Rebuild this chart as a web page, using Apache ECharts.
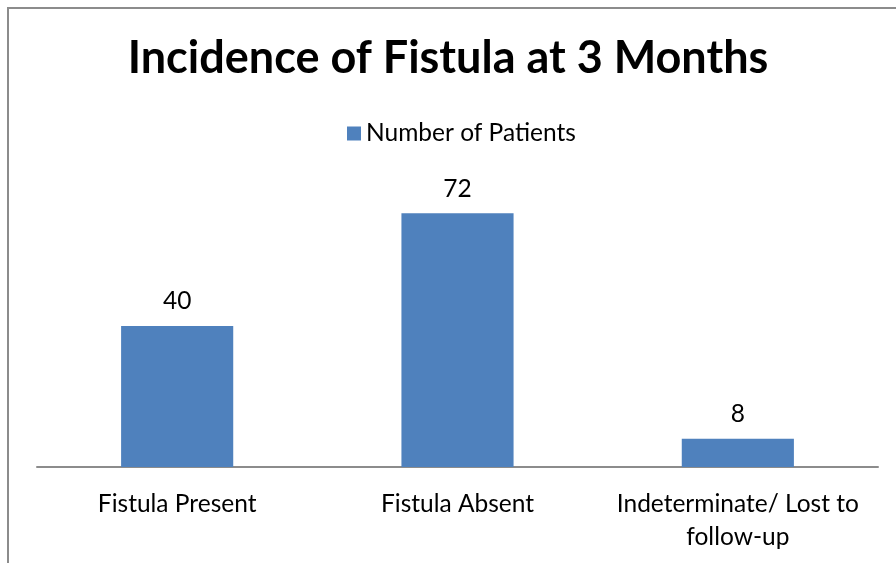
<!DOCTYPE html>
<html>
<head>
<meta charset="utf-8">
<script src="https://cdn.jsdelivr.net/npm/echarts@6/dist/echarts.min.js"></script>
<style>
  html, body { margin: 0; padding: 0; background: #fff; }
  #chart { width: 896px; height: 563px; }
</style>
</head>
<body>
<div id="chart"></div>
<script>
const categories = ['Fistula Present', 'Fistula Absent', 'Indeterminate/ Lost to\nfollow-up'];
const patients = [40, 72, 8];
const seriesName = 'Number of Patients';

const chart = echarts.init(document.getElementById('chart'));
const font = 'Lato, "Open Sans", sans-serif';

chart.setOption({
  backgroundColor: '#ffffff',
  animation: false,
  graphic: [{
    type: 'polyline',
    shape: { points: [[8, 563], [8, 8], [896, 8]] },
    style: { stroke: '#8c8c8c', lineWidth: 2, fill: null }
  }],
  title: {
    text: 'Incidence of Fistula at 3 Months',
    left: 'center',
    top: 31,
    textStyle: { fontFamily: font, fontWeight: 'bold', fontSize: 45, color: '#000' }
  },
  legend: {
    data: [seriesName],
    top: 116,
    left: 342,
    icon: 'rect',
    itemWidth: 14,
    itemHeight: 14,
    itemGap: 7,
    textStyle: { fontFamily: font, fontSize: 24.5, color: '#000' }
  },
  grid: { left: 37, right: 18, top: 185, bottom: 96 },
  xAxis: {
    type: 'category',
    data: categories,
    axisLine: { lineStyle: { color: '#8c8c8c', width: 2 } },
    axisTick: { show: false },
    axisLabel: {
      fontFamily: font, fontSize: 24.5, color: '#000', margin: 21,
      lineHeight: 33, interval: 0
    }
  },
  yAxis: {
    type: 'value',
    min: 0,
    max: 80,
    show: false,
    splitLine: { show: false }
  },
  series: [{
    name: seriesName,
    type: 'bar',
    data: patients,
    barWidth: '40%',
    itemStyle: { color: '#4f81bd' },
    label: {
      show: true,
      position: 'top',
      distance: 12,
      fontFamily: font,
      fontSize: 24.5,
      color: '#000'
    }
  }]
});
</script>
</body>
</html>
